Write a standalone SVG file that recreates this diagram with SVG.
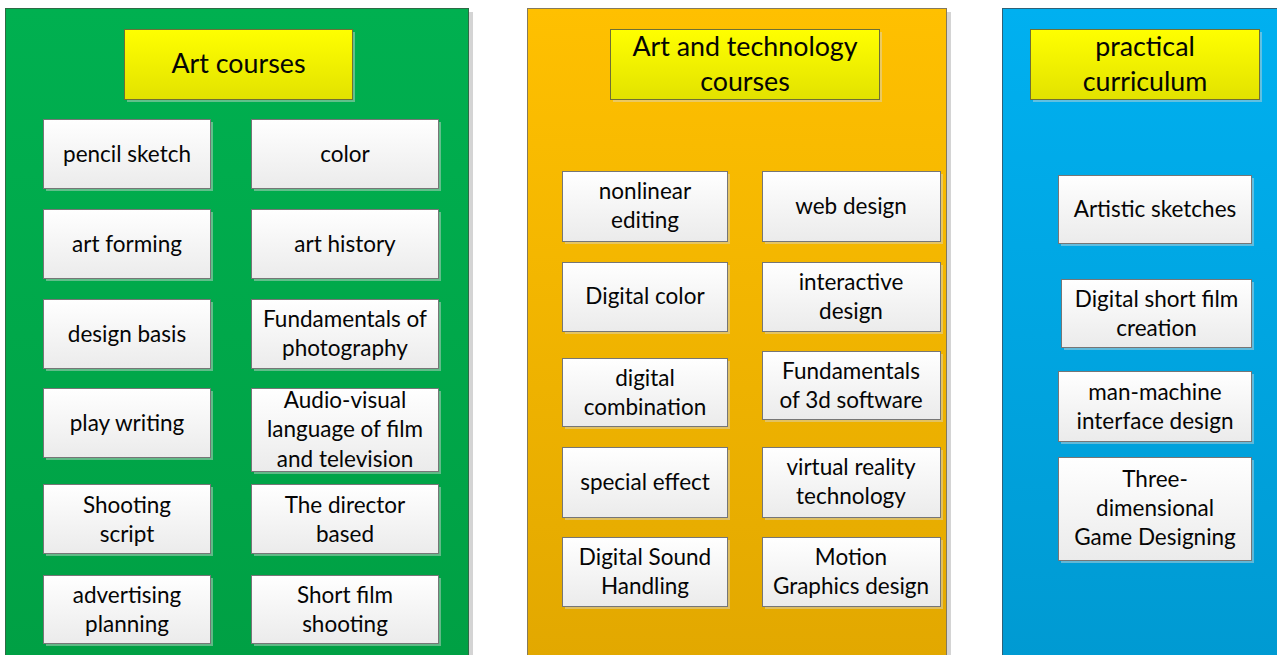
<svg xmlns="http://www.w3.org/2000/svg" width="1277" height="655" viewBox="0 0 1277 655">
  <defs>
    <linearGradient id="gGreen" x1="0" y1="0" x2="0" y2="1">
      <stop offset="0" stop-color="#00b050"/>
      <stop offset="1" stop-color="#00a044"/>
    </linearGradient>
    <linearGradient id="gOrange" x1="0" y1="0" x2="0" y2="1">
      <stop offset="0" stop-color="#ffc000"/>
      <stop offset="1" stop-color="#e2a800"/>
    </linearGradient>
    <linearGradient id="gBlue" x1="0" y1="0" x2="0" y2="1">
      <stop offset="0" stop-color="#00b0f0"/>
      <stop offset="1" stop-color="#009ad2"/>
    </linearGradient>
    <linearGradient id="gTitle" x1="0" y1="0" x2="0" y2="1">
      <stop offset="0" stop-color="#ffff00"/>
      <stop offset="1" stop-color="#e2e200"/>
    </linearGradient>
    <linearGradient id="gItem" x1="0" y1="0" x2="0" y2="1">
      <stop offset="0" stop-color="#ffffff"/>
      <stop offset="1" stop-color="#ebebeb"/>
    </linearGradient>
  </defs>
  <style>
    .pshadow { fill: #d4d4d4; }
    .panel { stroke-width: 1; }
    .shadow { fill: #d8d8d8; fill-opacity: 0.45; }
    .title { fill: url(#gTitle); stroke: #6f6f35; stroke-width: 1; }
    .item { fill: url(#gItem); stroke: #767676; stroke-width: 1; }
    text { font-family: "Lato", "Carlito", "Liberation Sans", sans-serif; fill: #050505; text-anchor: middle; }
    .t { font-size: 22.5px; }
    .h { font-size: 26.8px; }
  </style>

  <!-- column panels -->
  <g id="panel-art">
    <rect class="pshadow" x="9" y="12" width="464" height="650"/>
    <rect class="panel" x="5.5" y="8.5" width="463" height="650" fill="url(#gGreen)" stroke="#2f6a45"/>
  </g>
  <g id="panel-arttech">
    <rect class="pshadow" x="531" y="12" width="420" height="650"/>
    <rect class="panel" x="527.5" y="8.5" width="419" height="650" fill="url(#gOrange)" stroke="#857a5c"/>
  </g>
  <g id="panel-practical">
    <rect class="panel" x="1002.5" y="8.5" width="290" height="650" fill="url(#gBlue)" stroke="#2f6178"/>
  </g>

  <!-- column headers -->
  <g id="title-art">
    <rect class="shadow" x="127" y="32" width="228" height="70"/>
    <rect class="title" x="124.5" y="29.5" width="228" height="70"/>
    <text class="h" x="238.5" y="73">Art courses</text>
  </g>
  <g id="title-arttech">
    <rect class="shadow" x="613" y="32" width="269" height="70"/>
    <rect class="title" x="610.5" y="29.5" width="269" height="70"/>
    <text class="h" x="745" y="55.5">Art and technology</text>
    <text class="h" x="745" y="90.5">courses</text>
  </g>
  <g id="title-practical">
    <rect class="shadow" x="1033" y="32" width="229" height="70"/>
    <rect class="title" x="1030.5" y="29.5" width="229" height="70"/>
    <text class="h" x="1145" y="55.5">practical</text>
    <text class="h" x="1145" y="90.5">curriculum</text>
  </g>

  <!-- Art courses -->
  <g id="pencil-sketch">
    <rect class="shadow" x="46" y="122" width="167" height="69"/>
    <rect class="item" x="43.5" y="119.5" width="167" height="69"/>
    <text class="t" x="127" y="161.5">pencil sketch</text>
  </g>
  <g id="color">
    <rect class="shadow" x="254" y="122" width="187" height="69"/>
    <rect class="item" x="251.5" y="119.5" width="187" height="69"/>
    <text class="t" x="345" y="161.5">color</text>
  </g>
  <g id="art-forming">
    <rect class="shadow" x="46" y="212" width="167" height="69"/>
    <rect class="item" x="43.5" y="209.5" width="167" height="69"/>
    <text class="t" x="127" y="251.5">art forming</text>
  </g>
  <g id="art-history">
    <rect class="shadow" x="254" y="212" width="187" height="69"/>
    <rect class="item" x="251.5" y="209.5" width="187" height="69"/>
    <text class="t" x="345" y="251.5">art history</text>
  </g>
  <g id="design-basis">
    <rect class="shadow" x="46" y="302" width="167" height="69"/>
    <rect class="item" x="43.5" y="299.5" width="167" height="69"/>
    <text class="t" x="127" y="341.5">design basis</text>
  </g>
  <g id="photography">
    <rect class="shadow" x="254" y="302" width="187" height="69"/>
    <rect class="item" x="251.5" y="299.5" width="187" height="69"/>
    <text class="t" x="345" y="327">Fundamentals of</text>
    <text class="t" x="345" y="356">photography</text>
  </g>
  <g id="play-writing">
    <rect class="shadow" x="46" y="391" width="167" height="69"/>
    <rect class="item" x="43.5" y="388.5" width="167" height="69"/>
    <text class="t" x="127" y="430.5">play writing</text>
  </g>
  <g id="audio-visual">
    <rect class="shadow" x="254" y="391" width="187" height="83"/>
    <rect class="item" x="251.5" y="388.5" width="187" height="83"/>
    <text class="t" x="345" y="407.5">Audio-visual</text>
    <text class="t" x="345" y="437">language of film</text>
    <text class="t" x="345" y="466.5">and television</text>
  </g>
  <g id="shooting-script">
    <rect class="shadow" x="46" y="487" width="167" height="69"/>
    <rect class="item" x="43.5" y="484.5" width="167" height="69"/>
    <text class="t" x="127" y="512.5">Shooting</text>
    <text class="t" x="127" y="541.5">script</text>
  </g>
  <g id="director">
    <rect class="shadow" x="254" y="487" width="187" height="69"/>
    <rect class="item" x="251.5" y="484.5" width="187" height="69"/>
    <text class="t" x="345" y="512.5">The director</text>
    <text class="t" x="345" y="541.5">based</text>
  </g>
  <g id="advertising">
    <rect class="shadow" x="46" y="578" width="167" height="68"/>
    <rect class="item" x="43.5" y="575.5" width="167" height="68"/>
    <text class="t" x="127" y="603">advertising</text>
    <text class="t" x="127" y="632">planning</text>
  </g>
  <g id="short-film">
    <rect class="shadow" x="254" y="578" width="187" height="68"/>
    <rect class="item" x="251.5" y="575.5" width="187" height="68"/>
    <text class="t" x="345" y="603">Short film</text>
    <text class="t" x="345" y="632">shooting</text>
  </g>

  <!-- Art and technology courses -->
  <g id="nonlinear-editing">
    <rect class="shadow" x="565" y="174" width="165" height="70"/>
    <rect class="item" x="562.5" y="171.5" width="165" height="70"/>
    <text class="t" x="645" y="199">nonlinear</text>
    <text class="t" x="645" y="228">editing</text>
  </g>
  <g id="web-design">
    <rect class="shadow" x="765" y="174" width="178" height="70"/>
    <rect class="item" x="762.5" y="171.5" width="178" height="70"/>
    <text class="t" x="851" y="214">web design</text>
  </g>
  <g id="digital-color">
    <rect class="shadow" x="565" y="265" width="165" height="69"/>
    <rect class="item" x="562.5" y="262.5" width="165" height="69"/>
    <text class="t" x="645" y="304">Digital color</text>
  </g>
  <g id="interactive-design">
    <rect class="shadow" x="765" y="265" width="178" height="69"/>
    <rect class="item" x="762.5" y="262.5" width="178" height="69"/>
    <text class="t" x="851" y="289.5">interactive</text>
    <text class="t" x="851" y="318.5">design</text>
  </g>
  <g id="digital-combination">
    <rect class="shadow" x="565" y="361" width="165" height="68"/>
    <rect class="item" x="562.5" y="358.5" width="165" height="68"/>
    <text class="t" x="645" y="385.5">digital</text>
    <text class="t" x="645" y="414.5">combination</text>
  </g>
  <g id="software-3d">
    <rect class="shadow" x="765" y="354" width="178" height="68"/>
    <rect class="item" x="762.5" y="351.5" width="178" height="68"/>
    <text class="t" x="851" y="378.5">Fundamentals</text>
    <text class="t" x="851" y="407.5">of 3d software</text>
  </g>
  <g id="special-effect">
    <rect class="shadow" x="565" y="450" width="165" height="70"/>
    <rect class="item" x="562.5" y="447.5" width="165" height="70"/>
    <text class="t" x="645" y="490">special effect</text>
  </g>
  <g id="virtual-reality">
    <rect class="shadow" x="765" y="450" width="178" height="70"/>
    <rect class="item" x="762.5" y="447.5" width="178" height="70"/>
    <text class="t" x="851" y="475">virtual reality</text>
    <text class="t" x="851" y="504">technology</text>
  </g>
  <g id="digital-sound">
    <rect class="shadow" x="565" y="540" width="165" height="69"/>
    <rect class="item" x="562.5" y="537.5" width="165" height="69"/>
    <text class="t" x="645" y="564.5">Digital Sound</text>
    <text class="t" x="645" y="593.5">Handling</text>
  </g>
  <g id="motion-graphics">
    <rect class="shadow" x="765" y="540" width="178" height="69"/>
    <rect class="item" x="762.5" y="537.5" width="178" height="69"/>
    <text class="t" x="851" y="564.5">Motion</text>
    <text class="t" x="851" y="593.5">Graphics design</text>
  </g>

  <!-- practical curriculum -->
  <g id="artistic-sketches">
    <rect class="shadow" x="1061" y="178" width="193" height="68"/>
    <rect class="item" x="1058.5" y="175.5" width="193" height="68"/>
    <text class="t" x="1155" y="217">Artistic sketches</text>
  </g>
  <g id="digital-short-film">
    <rect class="shadow" x="1064" y="282" width="190" height="68"/>
    <rect class="item" x="1061.5" y="279.5" width="190" height="68"/>
    <text class="t" x="1156.5" y="306.5">Digital short film</text>
    <text class="t" x="1156.5" y="335.5">creation</text>
  </g>
  <g id="man-machine">
    <rect class="shadow" x="1061" y="374" width="193" height="70"/>
    <rect class="item" x="1058.5" y="371.5" width="193" height="70"/>
    <text class="t" x="1155" y="399.5">man-machine</text>
    <text class="t" x="1155" y="428.5">interface design</text>
  </g>
  <g id="game-designing">
    <rect class="shadow" x="1061" y="460" width="193" height="103"/>
    <rect class="item" x="1058.5" y="457.5" width="193" height="103"/>
    <text class="t" x="1155" y="487">Three-</text>
    <text class="t" x="1155" y="516">dimensional</text>
    <text class="t" x="1155" y="545">Game Designing</text>
  </g>
</svg>
